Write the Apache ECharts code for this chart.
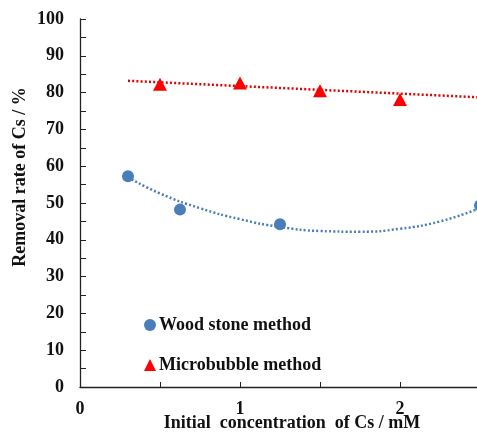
<!DOCTYPE html>
<html>
<head>
<meta charset="utf-8">
<script src="https://cdn.jsdelivr.net/npm/echarts@6/dist/echarts.min.js"></script>
<style>
html,body{margin:0;padding:0;background:#fff;}
#c{width:477px;height:432px;}
</style>
</head>
<body>
<div id="c"></div>
<script>
// Data
const woodName = 'Wood stone method';
const microName = 'Microbubble method';
const woodX = [0.3, 0.625, 1.25, 2.5];
const woodY = [57.3, 48.2, 44.2, 49.3];
const microX = [0.5, 1.0, 1.5, 2.0];
const microY = [82.3, 82.6, 80.5, 78.1];
// trend lines as drawn in the picture
const woodTrendX = [0.3, 0.5, 0.75, 1.0, 1.25, 1.5, 1.75, 2.0, 2.25, 2.5];
const woodTrendY = [57.0, 52.6, 48.6, 45.6, 43.5, 42.4, 42.2, 43.0, 45.0, 48.6];
const microTrendX = [0.3, 2.6];
const microTrendY = [83.2, 78.5];
const xTitle = 'Initial  concentration  of Cs / mM';
const yTitle = 'Removal rate of Cs / %';

const zip = (xs, ys) => xs.map((x, i) => [x, ys[i]]);
const FONT = "'Liberation Serif', 'Times New Roman', serif";
const BLUE = '#4A7EBB';
const RED = '#FF0000';

const chart = echarts.init(document.getElementById('c'), null, {renderer: 'canvas'});
chart.setOption({
  animation: false,
  backgroundColor: '#fff',
  grid: {left: 80, top: 19, width: 424, bottom: 45, outerBoundsMode: 'none', containLabel: false},
  legend: {
    orient: 'vertical', left: 139, top: 311, itemGap: 22,
    itemWidth: 12, itemHeight: 12, itemStyle: {borderWidth: 0},
    textStyle: {fontFamily: FONT, fontWeight: 'bold', fontSize: 18, color: '#111', padding: [0, 0, 0, -2]},
    data: [{name: woodName, icon: 'circle'}, {name: microName, icon: 'triangle'}]
  },
  xAxis: {
    type: 'value', min: 0, max: 2.65, interval: 0.5,
    name: xTitle, nameLocation: 'middle', nameGap: 27, nameMoveOverlap: false,
    nameTextStyle: {fontFamily: FONT, fontWeight: 'bold', fontSize: 18, color: '#111'},
    axisLine: {show: true, lineStyle: {color: '#222', width: 1.3}},
    axisTick: {show: true, inside: true, length: 5, lineStyle: {color: '#222'}},
    axisLabel: {
      margin: 13, fontFamily: FONT, fontWeight: 'bold', fontSize: 18, color: '#111',
      showMaxLabel: false,
      formatter: v => (Math.abs(v - Math.round(v)) < 1e-9 ? String(Math.round(v)) : '')
    },
    splitLine: {show: false}
  },
  yAxis: {
    type: 'value', min: 0, max: 100, interval: 10,
    name: yTitle, nameLocation: 'middle', nameGap: 51, nameRotate: 90, nameMoveOverlap: false,
    nameTextStyle: {fontFamily: FONT, fontWeight: 'bold', fontSize: 18, color: '#111', padding: [0, 0, 0, 52]},
    axisLine: {show: true, lineStyle: {color: '#222', width: 1.3}},
    axisTick: {show: true, inside: true, length: 6, lineStyle: {color: '#222'}},
    minorTick: {show: true, splitNumber: 2, length: 6, lineStyle: {color: '#222'}},
    axisLabel: {margin: 16, fontFamily: FONT, fontWeight: 'bold', fontSize: 18, color: '#111'},
    splitLine: {show: false}
  },
  series: [
    {
      name: 'woodTrend', type: 'line', data: zip(woodTrendX, woodTrendY),
      smooth: true, symbol: 'none', z: 1,
      lineStyle: {color: BLUE, width: 2.5, type: [2, 2.2]}
    },
    {
      name: 'microTrend', type: 'line', data: zip(microTrendX, microTrendY),
      symbol: 'none', z: 1,
      lineStyle: {color: '#E00000', width: 2.5, type: [2, 2.2]}
    },
    {
      name: woodName, type: 'scatter', data: zip(woodX, woodY),
      symbol: 'circle', symbolSize: 12, z: 3,
      itemStyle: {color: BLUE, opacity: 1}
    },
    {
      name: microName, type: 'scatter', data: zip(microX, microY),
      symbol: 'triangle', symbolSize: [14, 13], z: 3,
      itemStyle: {color: RED, opacity: 1}
    }
  ]
});
</script>
</body>
</html>
